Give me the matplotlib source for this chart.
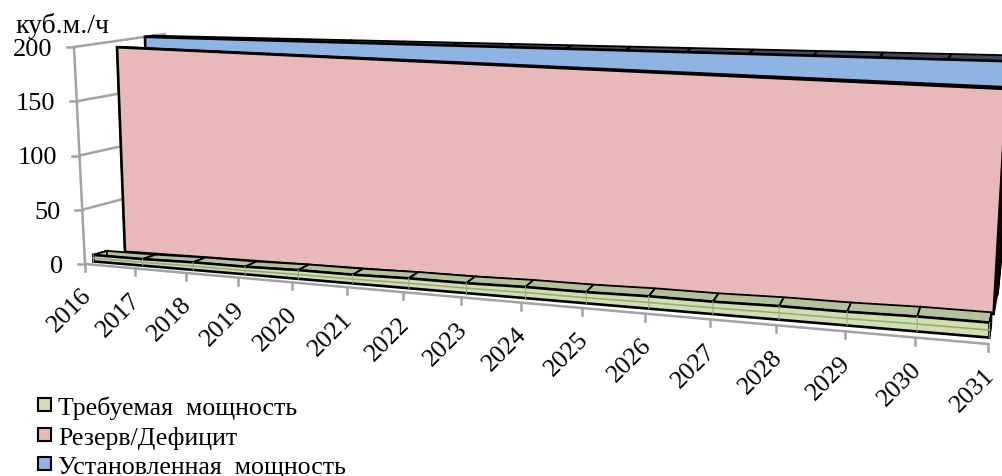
import numpy as np
import matplotlib
matplotlib.use('Agg')
import matplotlib.pyplot as plt
from matplotlib.patches import Polygon, Rectangle

plt.rcParams['font.family'] = ['Liberation Serif', 'DejaVu Serif']

years = [2016, 2017, 2018, 2019, 2020, 2021, 2022, 2023, 2024, 2025, 2026, 2027, 2028, 2029, 2030, 2031]
required = [6, 6, 7, 7, 8, 8, 9, 9, 10, 10, 11, 11, 12, 12, 13, 13]
reserve = [194, 194, 194, 194, 194, 194, 194, 194, 194, 194, 194, 194, 194, 194, 194, 194]
installed = [200, 200, 200, 200, 200, 200, 200, 200, 200, 200, 200, 200, 200, 200, 200, 200]
y_ticks = [0, 50, 100, 150, 200]
names = ['Требуемая  мощность', 'Резерв/Дефицит', 'Установленная  мощность']

# cube corners of the 3d plot in pixels
floor_fl = np.array([85.0, 265.0])
floor_fr = np.array([988.0, 345.0])
floor_bl = np.array([170.0, 239.0])
floor_br = np.array([1000.0, 281.0])
top_fl = np.array([74.0, 48.0])
top_fr = np.array([990.0, 114.0])
top_bl = np.array([165.0, 35.0])
top_br = np.array([1026.0, 48.0])
y_max = 200.0
persp = 0.0123


def project(cat, val, depth):
    n = len(years) - 1
    t = (cat / (1 - persp * cat)) / (n / (1 - persp * n))
    h = val / y_max
    floor = (1 - depth) * (floor_fl + (floor_fr - floor_fl) * t) + depth * (floor_bl + (floor_br - floor_bl) * t)
    top = (1 - depth) * (top_fl + (top_fr - top_fl) * t) + depth * (top_bl + (top_br - top_bl) * t)
    return floor + (top - floor) * h


def draw_area(ax, values, d0, d1, cap_d, front, top, zorder, midline=None):
    for i in range(len(years) - 1):
        # top face of the segment
        pts = [project(i, values[i], d1), project(i + 1, values[i + 1], d1),
               project(i + 1, values[i + 1], d0), project(i, values[i], d0)]
        ax.add_patch(Polygon(pts, closed=True, fc=top, ec='black', lw=1.3, zorder=zorder))
    # right end cap is always in shadow
    n = len(years) - 1
    pts = [project(n, 0, d0), project(n, values[n], d0), project(n, values[n], cap_d), project(n, 0, cap_d)]
    ax.add_patch(Polygon(pts, closed=True, fc='#0a0a0a', ec='black', lw=1.3, zorder=zorder))
    # left end cap
    pts = [project(0, 0, d0), project(0, values[0], d0), project(0, values[0], d1), project(0, 0, d1)]
    ax.add_patch(Polygon(pts, closed=True, fc=top, ec='black', lw=1.3, zorder=zorder))
    # front face
    cats = range(len(years))
    pts = [project(i, values[i], d0) for i in cats] + [project(i, 0, d0) for i in reversed(cats)]
    ax.add_patch(Polygon(pts, closed=True, fc=front, ec='black', lw=1.9, zorder=zorder + 0.1))
    if midline:
        line = np.array([project(i, values[i] * 0.5, d0) for i in cats])
        ax.plot(line[:, 0], line[:, 1], color=midline, lw=1.2, zorder=zorder + 0.2)
        for i in cats:
            a = project(i, values[i], d0)
            b = project(i, 0, d0)
            ax.plot([a[0], b[0]], [a[1], b[1]], color=midline, lw=0.8, zorder=zorder + 0.2)


fig = plt.figure(figsize=(10.03, 4.77), dpi=100)
ax = fig.add_axes([0, 0, 1, 1])
ax.set_xlim(0, 1003)
ax.set_ylim(477, 0)
ax.axis('off')

grey = '#a3a3a3'

# value axis, side wall gridlines and ticks
p0 = project(0, 0, 0)
p1 = project(0, y_max, 0)
ax.plot([p0[0], p1[0]], [p0[1], p1[1]], color=grey, lw=1.8, zorder=1)
for v in y_ticks:
    a = project(0, v, 0)
    b = project(0, v, 1)
    if v > 0:
        ax.plot([a[0], b[0]], [a[1], b[1]], color=grey, lw=1.8, zorder=1)
    ax.plot([a[0] - 7, a[0]], [a[1], a[1]], color=grey, lw=1.8, zorder=1)
    ax.text(a[0] - 22, a[1] + 2, str(v), ha='right', va='center', fontsize=19, color='black')

# category axis and tick labels
line = np.array([project(i, 0, 0) for i in range(len(years))])
ax.plot(line[:, 0], line[:, 1], color=grey, lw=1.8, zorder=1)
for i, yr in enumerate(years):
    a = project(i, 0, 0)
    ax.plot([a[0], a[0]], [a[1], a[1] + 7], color=grey, lw=1.8, zorder=1)
    ax.text(a[0] - 5, a[1] + 20, str(yr), rotation=45, rotation_mode='anchor',
            ha='right', va='top', fontsize=18.5, color='black')

draw_area(ax, installed, 0.78, 0.87, 0.87, '#8db4e2', '#3f4a58', 2)
draw_area(ax, reserve, 0.47, 0.50, 0.75, '#e9b8b8', '#3a2626', 3)
draw_area(ax, required, 0.10, 0.26, 0.26, '#cfe0ae', '#b4c09a', 4, midline='#9aaa80')

ax.text(15, 33, 'куб.м./ч', fontsize=20, ha='left', va='baseline', color='black')

# legend
colors = ['#cfe0ae', '#e9b8b8', '#8db4e2']
legend_y = [415, 445, 474]
for name, col, yy in zip(names, colors, legend_y):
    ax.add_patch(Rectangle((38, yy - 16), 13, 13, fc=col, ec='black', lw=1.5, zorder=5))
    ax.text(58, yy, name, fontsize=18.6, ha='left', va='baseline', color='black')

fig.savefig('out.png', dpi=100)
